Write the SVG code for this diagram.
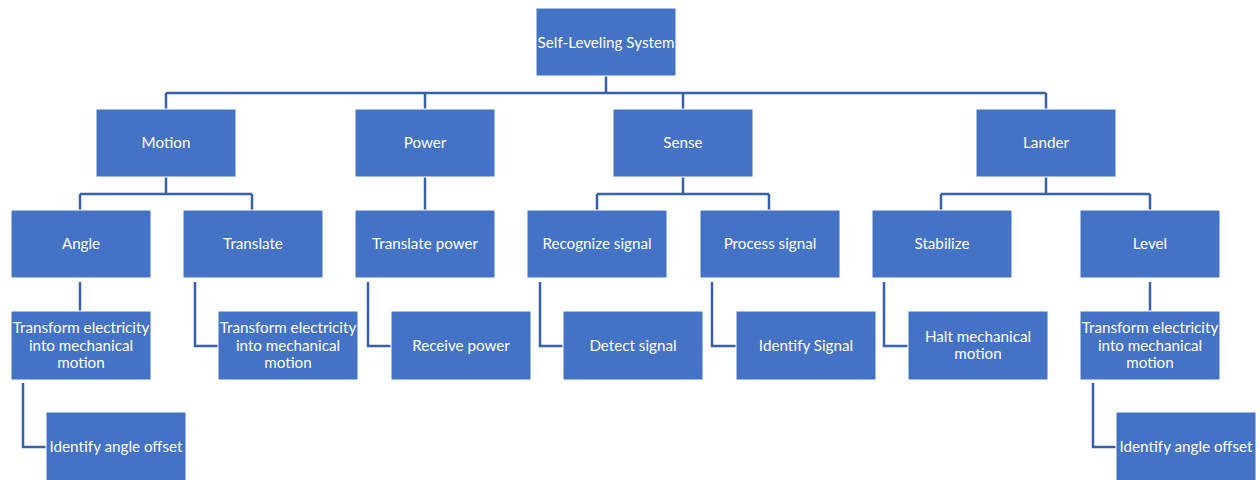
<svg xmlns="http://www.w3.org/2000/svg" width="1260" height="480" viewBox="0 0 1260 480">
<style>
.box{fill:#4472C4;stroke:#ffffff;stroke-width:1}
.t{font-family:Lato,"Liberation Sans",Arial,sans-serif;font-size:15.2px;fill:#ffffff;text-anchor:middle;dominant-baseline:central}
.c{fill:none;stroke:#3660A8;stroke-width:2.5}
</style>
<rect width="1260" height="480" fill="#ffffff"/>
<g id="connectors">
<path class="c" d="M606 76V93M166 93H1046M166 93V109M425 93V109M683 93V109M1046 93V109"/>
<path class="c" d="M166 177V194M80 194H252M80 194V210M252 194V210"/>
<path class="c" d="M425 177V210"/>
<path class="c" d="M683 177V194M597 194H769M597 194V210M769 194V210"/>
<path class="c" d="M1046 177V194M941 194H1150M941 194V210M1150 194V210"/>
<path class="c" d="M80 282V311"/>
<path class="c" d="M195 282V346H219"/>
<path class="c" d="M368 282V346H391"/>
<path class="c" d="M540 282V346H563"/>
<path class="c" d="M712 282V346H736"/>
<path class="c" d="M884 282V346H908"/>
<path class="c" d="M1150 282V311"/>
<path class="c" d="M23 383V447H46"/>
<path class="c" d="M1093 383V447H1116"/>
</g>
<g id="root"><rect class="box" x="536" y="8" width="140" height="68"/><text class="t" x="606" y="42">Self-Leveling System</text></g>
<g id="motion"><rect class="box" x="96" y="109" width="140" height="68"/><text class="t" x="166" y="142">Motion</text></g>
<g id="power"><rect class="box" x="355" y="109" width="140" height="68"/><text class="t" x="425" y="142">Power</text></g>
<g id="sense"><rect class="box" x="613" y="109" width="140" height="68"/><text class="t" x="683" y="142">Sense</text></g>
<g id="lander"><rect class="box" x="976" y="109" width="140" height="68"/><text class="t" x="1046" y="142">Lander</text></g>
<g id="angle"><rect class="box" x="11" y="210" width="140" height="68"/><text class="t" x="81" y="243">Angle</text></g>
<g id="translate"><rect class="box" x="183" y="210" width="140" height="68"/><text class="t" x="253" y="243">Translate</text></g>
<g id="translate-power"><rect class="box" x="355" y="210" width="140" height="68"/><text class="t" x="425" y="243">Translate power</text></g>
<g id="recognize-signal"><rect class="box" x="527" y="210" width="140" height="68"/><text class="t" x="597" y="243">Recognize signal</text></g>
<g id="process-signal"><rect class="box" x="700" y="210" width="140" height="68"/><text class="t" x="770" y="243">Process signal</text></g>
<g id="stabilize"><rect class="box" x="872" y="210" width="140" height="68"/><text class="t" x="942" y="243">Stabilize</text></g>
<g id="level"><rect class="box" x="1080" y="210" width="140" height="68"/><text class="t" x="1150" y="243">Level</text></g>
<g id="transform-1"><rect class="box" x="11" y="311" width="140" height="69"/><text class="t" x="81" y="327">Transform electricity</text><text class="t" x="81" y="345">into mechanical</text><text class="t" x="81" y="362">motion</text></g>
<g id="transform-2"><rect class="box" x="218" y="311" width="140" height="69"/><text class="t" x="288" y="327">Transform electricity</text><text class="t" x="288" y="345">into mechanical</text><text class="t" x="288" y="362">motion</text></g>
<g id="receive-power"><rect class="box" x="391" y="311" width="140" height="69"/><text class="t" x="461" y="345">Receive power</text></g>
<g id="detect-signal"><rect class="box" x="563" y="311" width="140" height="69"/><text class="t" x="633" y="345">Detect signal</text></g>
<g id="identify-signal"><rect class="box" x="736" y="311" width="140" height="69"/><text class="t" x="806" y="345">Identify Signal</text></g>
<g id="halt"><rect class="box" x="908" y="311" width="140" height="69"/><text class="t" x="978" y="336">Halt mechanical</text><text class="t" x="978" y="353">motion</text></g>
<g id="transform-3"><rect class="box" x="1080" y="311" width="140" height="69"/><text class="t" x="1150" y="327">Transform electricity</text><text class="t" x="1150" y="345">into mechanical</text><text class="t" x="1150" y="362">motion</text></g>
<g id="angle-offset-1"><rect class="box" x="46" y="412" width="140" height="69"/><text class="t" x="116" y="446">Identify angle offset</text></g>
<g id="angle-offset-2"><rect class="box" x="1116" y="412" width="140" height="69"/><text class="t" x="1186" y="446">Identify angle offset</text></g>
</svg>
